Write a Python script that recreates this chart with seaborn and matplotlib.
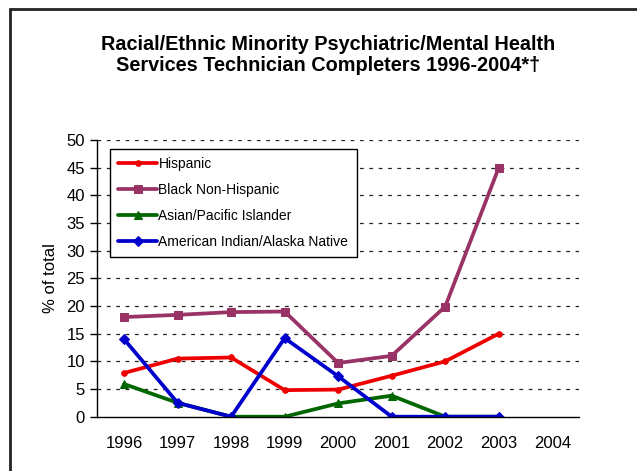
import matplotlib
matplotlib.use("Agg")
import matplotlib.pyplot as plt
import seaborn as sns
import pandas as pd
from matplotlib.patches import Rectangle

years = [1996, 1997, 1998, 1999, 2000, 2001, 2002, 2003]
tick_years = [1996, 1997, 1998, 1999, 2000, 2001, 2002, 2003, 2004]
hispanic = [7.9, 10.5, 10.7, 4.8, 4.9, 7.4, 10.0, 15.0]
black = [18.0, 18.4, 18.9, 19.0, 9.7, 11.0, 19.9, 45.0]
asian = [5.9, 2.5, 0.0, 0.0, 2.4, 3.8, 0.0, 0.0]
amind = [14.0, 2.5, 0.0, 14.2, 7.3, 0.0, 0.0, 0.0]

series = [
    ("Hispanic", hispanic, "#EE0000", "o", 4),
    ("Black Non-Hispanic", black, "#993366", "s", 6),
    ("Asian/Pacific Islander", asian, "#006600", "^", 6),
    ("American Indian/Alaska Native", amind, "#0000CC", "D", 5),
]

sns.set_theme(style="white")
plt.rcParams["font.family"] = ["Liberation Sans", "DejaVu Sans"]
plt.rcParams["text.color"] = "black"
plt.rcParams["axes.labelcolor"] = "black"

fig = plt.figure(figsize=(6.37, 4.71), dpi=100)
ax = fig.add_axes([0.1528, 0.1153, 0.7562, 0.5875])

for name, vals, color, marker, ms in series:
    df = pd.DataFrame({"year": years, "pct": vals})
    sns.lineplot(data=df, x="year", y="pct", ax=ax, color=color, marker=marker,
                 markersize=ms, markeredgecolor=color, linewidth=2.7, label=name)

ax.set_xlim(1995.5, 2004.5)
ax.set_ylim(0, 50)
ax.set_xticks(tick_years)
ax.set_xticklabels([str(y) for y in tick_years])
ax.set_yticks(range(0, 51, 5))
for y in range(5, 51, 5):
    ax.axhline(y, color="#222222", linewidth=0.9, linestyle=(0, (3, 4.5)), zorder=0)

ax.set_xlabel("")
ax.set_ylabel("% of total", fontsize=12, color="black", labelpad=6)
ax.tick_params(axis="x", length=0, pad=14, labelsize=12, colors="black")
ax.tick_params(axis="y", length=5, width=1, direction="out", left=True, pad=4,
               labelsize=12, colors="black")
for side in ["top", "right"]:
    ax.spines[side].set_visible(False)
for side in ["left", "bottom"]:
    ax.spines[side].set_color("black")
    ax.spines[side].set_linewidth(1)

leg = ax.legend(loc="upper left", bbox_to_anchor=(0.026, 0.968), borderaxespad=0,
                fontsize=10, handlelength=2.8, handletextpad=0.1, labelspacing=0.85,
                fancybox=False, framealpha=1, borderpad=0.6)
leg.get_frame().set_edgecolor("black")
leg.get_frame().set_linewidth(1)
for t in leg.get_texts():
    t.set_color("black")

fig.text(0.515, 0.884, "Racial/Ethnic Minority Psychiatric/Mental Health\n"
         "Services Technician Completers 1996-2004*\u2020",
         ha="center", va="center", fontsize=14.3, fontweight="bold",
         color="black", linespacing=1.15)

fig.add_artist(Rectangle((10 / 637, -0.1), 1.2, 1.1 - 9 / 471,
                         transform=fig.transFigure, fill=False,
                         edgecolor="#222222", linewidth=2))

fig.savefig("out.png", dpi=100)
